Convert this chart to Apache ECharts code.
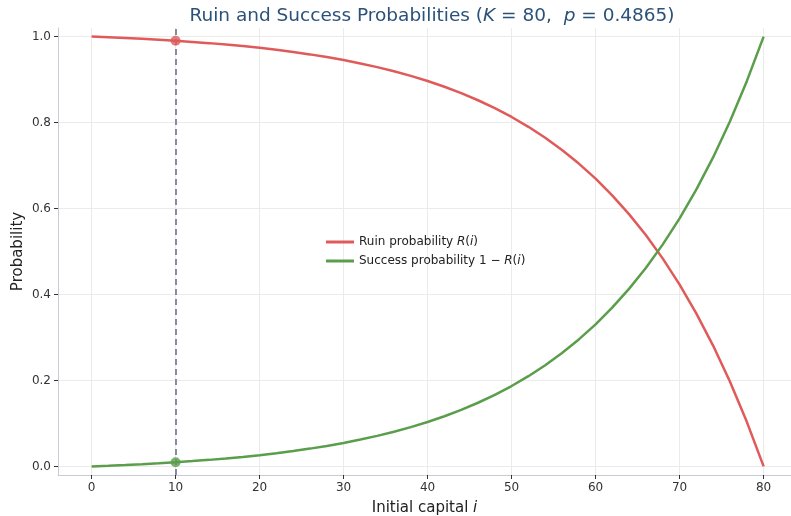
<!DOCTYPE html>
<html>
<head>
<meta charset="utf-8">
<script src="https://cdn.jsdelivr.net/npm/echarts@6/dist/echarts.min.js"></script>
<style>html,body{margin:0;padding:0;background:#fff;}#c{width:791px;height:516px;}</style>
</head>
<body>
<div id="c"></div>
<script>
var capital = [0,2,4,6,8,10,12,14,16,18,20,22,24,26,28,30,32,34,36,38,40,42,44,46,48,50,52,54,56,58,60,62,64,66,68,70,72,74,76,78,80];
var ruinProb = [1.0,0.9985,0.9968,0.9948,0.9927,0.9904,0.9877,0.9848,0.9815,0.9779,0.9738,0.9693,0.9642,0.9586,0.9524,0.9454,0.9376,0.9290,0.9193,0.9086,0.8966,0.8833,0.8685,0.8519,0.8335,0.8130,0.7901,0.7646,0.7362,0.7046,0.6694,0.6301,0.5864,0.5377,0.4834,0.4229,0.3555,0.2805,0.1969,0.1037,0.0];
var successProb = [0,0.0015,0.0032,0.0052,0.0073,0.0096,0.0123,0.0152,0.0185,0.0221,0.0262,0.0307,0.0358,0.0414,0.0476,0.0546,0.0624,0.0710,0.0807,0.0914,0.1034,0.1167,0.1315,0.1481,0.1665,0.1870,0.2099,0.2354,0.2638,0.2954,0.3306,0.3699,0.4136,0.4623,0.5166,0.5771,0.6445,0.7195,0.8031,0.8963,1.0];
var xTicks = [0,10,20,30,40,50,60,70,80];
var yTicks = [0.0,0.2,0.4,0.6,0.8,1.0];
var startCapital = 10;
var startRuin = 0.9904;
var startSuccess = 0.0096;

var FONT = 'DejaVu Sans';
var RED = '#e05a5a';
var GREEN = '#5a9e4c';

function pairs(xs, ys){ return xs.map(function(x,i){ return [x, ys[i]]; }); }

var chart = echarts.init(document.getElementById('c'), null, {renderer:'canvas'});
chart.setOption({
  animation: false,
  backgroundColor: '#fff',
  textStyle: {fontFamily: FONT},
  title: {
    text: 'Ruin and Success Probabilities ({i|K} = 80,  {i|p} = 0.4865)',
    left: 427, top: 2, textAlign: 'center',
    textStyle: {
      fontFamily: FONT, fontSize: 18.5, fontWeight: 'normal', color: '#2b5179',
      rich: {i: {fontFamily: FONT, fontSize: 18.5, fontStyle: 'italic', color: '#2b5179'}}
    }
  },
  grid: {left: 58, right: 0, top: 28, bottom: 41, containLabel: false, outerBoundsMode: 'none'},
  legend: {
    orient: 'vertical', left: 321, top: 231, itemWidth: 28, itemHeight: 3, itemGap: 7,
    icon: 'rect',
    data: ['ruin','success'],
    formatter: function(n){
      return n === 'ruin' ? 'Ruin probability {i|R}({i|i})' : 'Success probability 1 \u2212 {i|R}({i|i})';
    },
    textStyle: {fontFamily: FONT, fontSize: 12, color: '#222',
      rich: {i: {fontFamily: FONT, fontSize: 12, fontStyle: 'italic', color: '#222'}}}
  },
  xAxis: {
    type: 'value', min: -4, max: 83.26,
    name: 'Initial capital {i|i}', nameLocation: 'middle', nameGap: 26, nameMoveOverlap: false,
    nameTextStyle: {fontFamily: FONT, fontSize: 15, color: '#222',
      rich: {i: {fontFamily: FONT, fontSize: 15, fontStyle: 'italic', color: '#222'}}},
    axisLine: {show: true, onZero: false, lineStyle: {color: '#c9cbd4', width: 1}},
    axisTick: {show: true, length: 4, lineStyle: {color: '#333'}, customValues: xTicks},
    axisLabel: {fontFamily: FONT, fontSize: 12, color: '#333', margin: 7, customValues: xTicks,
      showMinLabel: true, showMaxLabel: true},
    splitLine: {show: true, lineStyle: {color: '#ebebeb', width: 1}, customValues: xTicks}
  },
  yAxis: {
    type: 'value', min: -0.02, max: 1.02,
    name: 'Probability', nameLocation: 'middle', nameGap: 32, nameRotate: 90, nameMoveOverlap: false,
    nameTextStyle: {fontFamily: FONT, fontSize: 15, color: '#222'},
    axisLine: {show: true, onZero: false, lineStyle: {color: '#c9cbd4', width: 1}},
    axisTick: {show: true, length: 4, lineStyle: {color: '#333'}, customValues: yTicks},
    axisLabel: {fontFamily: FONT, fontSize: 12, color: '#333', margin: 7, customValues: yTicks,
      formatter: function(v){ return v.toFixed(1); }},
    splitLine: {show: true, lineStyle: {color: '#ebebeb', width: 1}, customValues: yTicks}
  },
  series: [
    {
      name: 'ruin', type: 'line', data: pairs(capital, ruinProb), showSymbol: false, symbol: 'none',
      lineStyle: {color: RED, width: 2.5}, itemStyle: {color: RED}, z: 3,
      markLine: {
        silent: true, symbol: 'none', label: {show: false},
        lineStyle: {color: '#7d8197', type: [6, 4], width: 1.8},
        data: [{xAxis: startCapital}]
      }
    },
    {
      name: 'success', type: 'line', data: pairs(capital, successProb), showSymbol: false, symbol: 'none',
      lineStyle: {color: GREEN, width: 2.5}, itemStyle: {color: GREEN}, z: 3
    },
    {
      name: 'ruinPt', type: 'scatter', data: [[startCapital, startRuin]], symbolSize: 10,
      itemStyle: {color: RED}, z: 5
    },
    {
      name: 'successPt', type: 'scatter', data: [[startCapital, startSuccess]], symbolSize: 10,
      itemStyle: {color: GREEN}, z: 5
    }
  ]
});
</script>
</body>
</html>
